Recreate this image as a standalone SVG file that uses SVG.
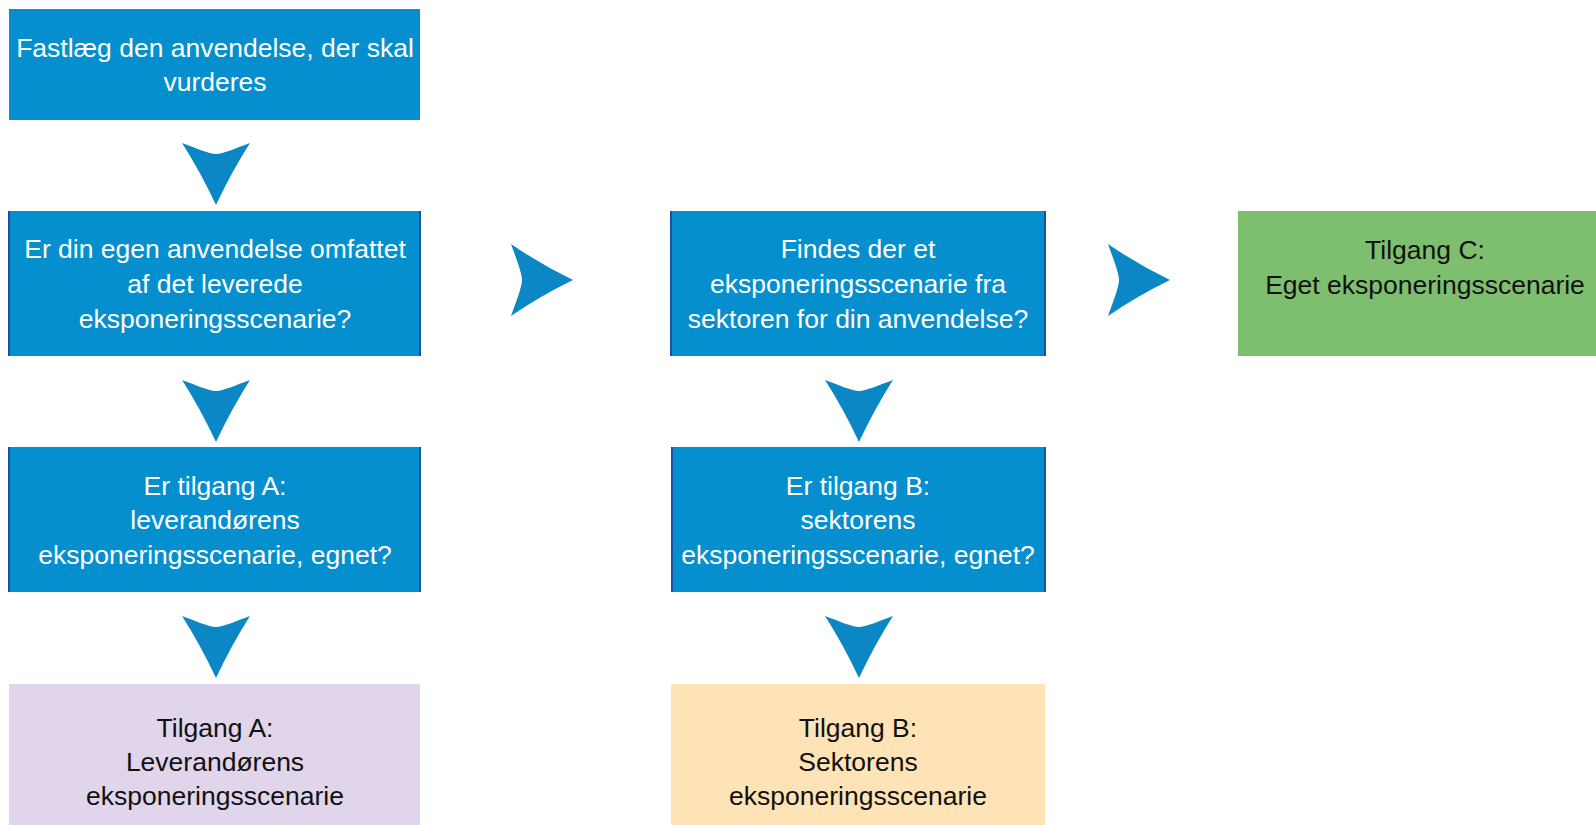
<svg xmlns="http://www.w3.org/2000/svg" xmlns:xlink="http://www.w3.org/1999/xlink" width="1596" height="825" viewBox="0 0 1596 825">
<style>
.blue{fill:#058fce}
.edge{fill:#1a4fa6}
.green{fill:#7dbf6e}
.purple{fill:#e0d5ea}
.peach{fill:#fde3b6}
.arrow{fill:#0a87c4}
text{font-family:"Liberation Sans",Arial,sans-serif;font-size:26.5px;text-anchor:middle}
.w{fill:#ffffff}
.k{fill:#111111}
</style>
<defs>
<path id="down" d="M-34,0 C-20,5 -7,11 0,11 C7,11 20,5 34,0 Q16,28 0,62 Q-16,28 -34,0Z"/>
<path id="right" d="M0,-36 C5,-22 11,-7 11,0 C11,7 5,22 0,36 Q29,16 62,0 Q29,-16 0,-36Z"/>
</defs>
<rect width="1596" height="825" fill="#ffffff"/>
<g id="connectors">
<use xlink:href="#down" class="arrow" x="216" y="143"/>
<use xlink:href="#down" class="arrow" x="216" y="380"/>
<use xlink:href="#down" class="arrow" x="216" y="616"/>
<use xlink:href="#down" class="arrow" x="859" y="380"/>
<use xlink:href="#down" class="arrow" x="859" y="616"/>
<use xlink:href="#right" class="arrow" x="511" y="280"/>
<use xlink:href="#right" class="arrow" x="1108" y="280"/>
</g>
<g id="n1">
<rect class="blue" x="9" y="9" width="411" height="111"/>
<text class="w" x="215" y="57">Fastlæg den anvendelse, der skal</text>
<text class="w" x="215" y="91">vurderes</text>
</g>
<g id="n2">
<rect class="blue" x="8" y="211" width="413" height="145"/>
<rect class="edge" x="8" y="211" width="2" height="145"/>
<rect class="edge" x="419" y="211" width="2" height="145"/>
<text class="w" x="215" y="258">Er din egen anvendelse omfattet</text>
<text class="w" x="215" y="293">af det leverede</text>
<text class="w" x="215" y="328">eksponeringsscenarie?</text>
</g>
<g id="n3">
<rect class="blue" x="670" y="211" width="376" height="145"/>
<rect class="edge" x="670" y="211" width="2" height="145"/>
<rect class="edge" x="1044" y="211" width="2" height="145"/>
<text class="w" x="858" y="258">Findes der et</text>
<text class="w" x="858" y="293">eksponeringsscenarie fra</text>
<text class="w" x="858" y="328">sektoren for din anvendelse?</text>
</g>
<g id="n4">
<rect class="green" x="1238" y="211" width="358" height="145"/>
<text class="k" x="1425" y="259">Tilgang C:</text>
<text class="k" x="1425" y="294">Eget eksponeringsscenarie</text>
</g>
<g id="n5">
<rect class="blue" x="8" y="447" width="413" height="145"/>
<rect class="edge" x="8" y="447" width="2" height="145"/>
<rect class="edge" x="419" y="447" width="2" height="145"/>
<text class="w" x="215" y="495">Er tilgang A:</text>
<text class="w" x="215" y="529">leverandørens</text>
<text class="w" x="215" y="564">eksponeringsscenarie, egnet?</text>
</g>
<g id="n6">
<rect class="blue" x="671" y="447" width="375" height="145"/>
<rect class="edge" x="671" y="447" width="2" height="145"/>
<rect class="edge" x="1044" y="447" width="2" height="145"/>
<text class="w" x="858" y="495">Er tilgang B:</text>
<text class="w" x="858" y="529">sektorens</text>
<text class="w" x="858" y="564">eksponeringsscenarie, egnet?</text>
</g>
<g id="n7">
<rect class="purple" x="9" y="684" width="411" height="141"/>
<text class="k" x="215" y="737">Tilgang A:</text>
<text class="k" x="215" y="771">Leverandørens</text>
<text class="k" x="215" y="805">eksponeringsscenarie</text>
</g>
<g id="n8">
<rect class="peach" x="671" y="684" width="374" height="141"/>
<text class="k" x="858" y="737">Tilgang B:</text>
<text class="k" x="858" y="771">Sektorens</text>
<text class="k" x="858" y="805">eksponeringsscenarie</text>
</g>
</svg>
